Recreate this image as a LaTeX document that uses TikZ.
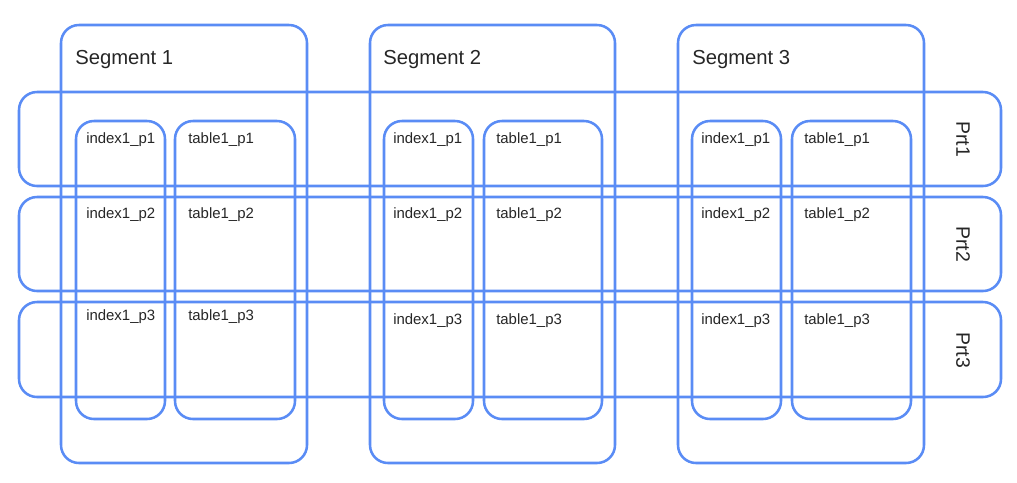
\documentclass[tikz,border=0pt]{standalone}
\usepackage{fontspec}
\setmainfont{Liberation Sans}
\usetikzlibrary{fit}
\definecolor{bl}{RGB}{90,140,245}
\tikzset{
  box/.style={draw=bl, line width=1.9pt, rounded corners=13.5pt, inner sep=0pt, fill=none},
  seglabel/.style={anchor=base west, inner sep=0pt, font=\fontsize{15.2}{17}\selectfont, text=black!85},
  cell/.style={anchor=base west, inner sep=0pt, font=\fontsize{11.2}{13}\selectfont, text=black!85},
  prtlabel/.style={rotate=-90, inner sep=0pt, font=\fontsize{14.6}{16}\selectfont, text=black!85}
}
\begin{document}
\begin{tikzpicture}[x=0.75pt,y=-0.75pt]
\useasboundingbox (0,0) rectangle (1017,482);
% segments
\node[box, fit={(61,25) (307,463)}] (s1) {};
\node[box, fit={(370,25) (615,463)}] (s2) {};
\node[box, fit={(678,25) (924,463)}] (s3) {};
% partitions
\node[box, fit={(19,92) (1001,186)}] (p1) {};
\node[box, fit={(19,197) (1001,291)}] (p2) {};
\node[box, fit={(19,302) (1001,397)}] (p3) {};
% inner columns
\node[box, fit={(76,121) (165,419)}] (i1) {};
\node[box, fit={(175,121) (295,419)}] (t1) {};
\node[box, fit={(384,121) (473,419)}] (i2) {};
\node[box, fit={(484,121) (602,419)}] (t2) {};
\node[box, fit={(692,121) (781,419)}] (i3) {};
\node[box, fit={(792,121) (911,419)}] (t3) {};
% segment labels
\node[seglabel] (sl1) at (75,64) {Segment 1};
\node[seglabel] (sl2) at (383,64) {Segment 2};
\node[seglabel] (sl3) at (692,64) {Segment 3};
% prt labels
\node[prtlabel] (pl1) at (963,139) {Prt1};
\node[prtlabel] (pl2) at (963,244) {Prt2};
\node[prtlabel] (pl3) at (963,350) {Prt3};
% cell labels seg1
\node[cell] (a11) at (86,143) {index1\_p1};
\node[cell] (b11) at (188,143) {table1\_p1};
\node[cell] (a12) at (86,218) {index1\_p2};
\node[cell] (b12) at (188,218) {table1\_p2};
\node[cell] (a13) at (86,320) {index1\_p3};
\node[cell] (b13) at (188,320) {table1\_p3};
% seg2
\node[cell] (a21) at (393,143) {index1\_p1};
\node[cell] (b21) at (496,143) {table1\_p1};
\node[cell] (a22) at (393,218) {index1\_p2};
\node[cell] (b22) at (496,218) {table1\_p2};
\node[cell] (a23) at (393,324) {index1\_p3};
\node[cell] (b23) at (496,324) {table1\_p3};
% seg3
\node[cell] (a31) at (701,143) {index1\_p1};
\node[cell] (b31) at (804,143) {table1\_p1};
\node[cell] (a32) at (701,218) {index1\_p2};
\node[cell] (b32) at (804,218) {table1\_p2};
\node[cell] (a33) at (701,324) {index1\_p3};
\node[cell] (b33) at (804,324) {table1\_p3};
\end{tikzpicture}
\end{document}
